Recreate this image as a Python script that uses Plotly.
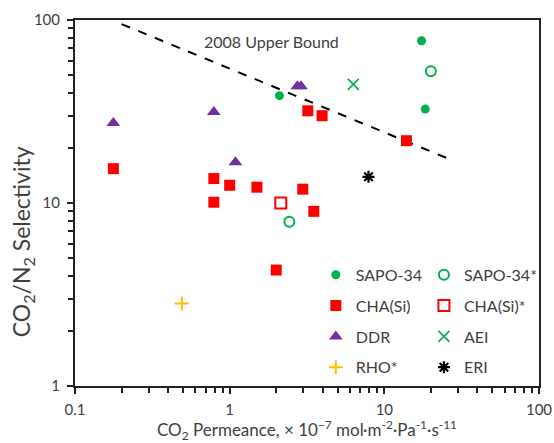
import plotly.graph_objects as go

# ---- data (CO2 permeance x1e-7, CO2/N2 selectivity) ----
sapo34_x = [17.4, 18.4, 2.1]
sapo34_y = [77, 32.6, 38.6]
sapo34s_x = [20.0, 2.43]
sapo34s_y = [52.4, 7.9]
cha_x = [0.177, 0.79, 0.79, 1.0, 1.5, 2.97, 3.5, 2.0, 3.2, 3.96, 13.9]
cha_y = [15.4, 13.6, 10.1, 12.5, 12.2, 11.9, 9.0, 4.3, 31.9, 30.0, 21.9]
chas_x = [2.14]
chas_y = [10.0]
ddr_x = [0.177, 0.79, 1.09, 2.74, 2.89]
ddr_y = [27.4, 31.4, 16.7, 43.5, 43.5]
aei_x = [6.3]
aei_y = [44.5]
rho_x = [0.49]
rho_y = [2.82]
eri_x = [7.9]
eri_y = [13.9]
bound_x = [0.2, 28]
bound_y = [95, 17.0]

FONT = "Lato"
TXT = "#404040"
GREEN = "#00B050"
RED = "#FF0000"
PURPLE = "#7030A0"
ORANGE = "#FFC000"

fig = go.Figure()

fig.add_trace(go.Scatter(x=bound_x, y=bound_y, mode="lines", showlegend=False,
                         line=dict(color="black", width=2, dash="dash"), hoverinfo="skip"))

def add(name, x, y, legend, symbol, color, size, lw=0, fill=True):
    marker = dict(symbol=symbol, size=size, color=color if fill else "rgba(0,0,0,0)",
                  line=dict(color=color, width=lw))
    fig.add_trace(go.Scatter(x=x, y=y, mode="markers", name=name, marker=marker,
                             legend=legend, legendgroup=name))

add("SAPO-34", sapo34_x, sapo34_y, "legend", "circle", GREEN, 9)
add("CHA(Si)", cha_x, cha_y, "legend", "square", RED, 11)
add("DDR", ddr_x, ddr_y, "legend", "triangle-up", PURPLE, 12)
add("RHO*", rho_x, rho_y, "legend", "cross-thin-open", ORANGE, 10, lw=2)
add("SAPO-34*", sapo34s_x, sapo34s_y, "legend2", "circle-open", GREEN, 10, lw=2)
add("CHA(Si)*", chas_x, chas_y, "legend2", "square-open", RED, 11, lw=2)
add("AEI", aei_x, aei_y, "legend2", "x-thin-open", GREEN, 11, lw=1.6)
add("ERI", eri_x, eri_y, "legend2", "asterisk-open", "black", 10, lw=2.2)

fig.add_annotation(x=0.273, y=1.88, xref="x", yref="y", text="2008 Upper Bound",
                   showarrow=False, font=dict(family=FONT, size=16, color=TXT))

# y-axis title (placed as rotated text, offset below plot centre as in the reference)
fig.add_annotation(x=-0.114, y=0.393, xref="paper", yref="paper", textangle=-90,
                   text="CO<sub>2</sub>/N<sub>2</sub> Selectivity", showarrow=False,
                   xanchor="center", yanchor="middle",
                   font=dict(family=FONT, size=23, color=TXT))

axis_common = dict(type="log", showline=True, linecolor="#222222", linewidth=2, mirror=True,
                   ticks="outside", ticklen=6, tickwidth=2, tickcolor="#222222",
                   showgrid=False, zeroline=False, automargin=False,
                   tickfont=dict(family=FONT, size=15, color=TXT),
                   minor=dict(ticks="outside", ticklen=5, tickwidth=1.5, tickcolor="#222222",
                              dtick="D1", showgrid=False))

fig.update_xaxes(**axis_common, range=[-1, 2], tickvals=[0.1, 1, 10, 100],
                 ticktext=["0.1", "1", "10", "100"], ticklabelstandoff=3,
                 title=dict(text="CO<sub>2</sub> Permeance, × 10<sup>−7</sup> mol·m<sup>-2</sup>·Pa<sup>-1</sup>·s<sup>-11</sup>",
                            font=dict(family=FONT, size=17, color=TXT), standoff=6))
fig.update_yaxes(**axis_common, range=[0, 2], tickvals=[1, 10, 100],
                 ticktext=["1", "10", "100"], ticklabelstandoff=4)

leg_common = dict(font=dict(family=FONT, size=16, color=TXT), bgcolor="rgba(0,0,0,0)",
                  borderwidth=0, tracegroupgap=7, xanchor="left", yanchor="top",
                  itemwidth=30)
fig.update_layout(
    width=554, height=443,
    margin=dict(l=75, r=15, t=20, b=57, autoexpand=False),
    paper_bgcolor="white", plot_bgcolor="white",
    legend=dict(**leg_common, x=0.519, y=0.35),
    legend2=dict(**leg_common, x=0.752, y=0.35),
)

fig.write_html("out.html")
